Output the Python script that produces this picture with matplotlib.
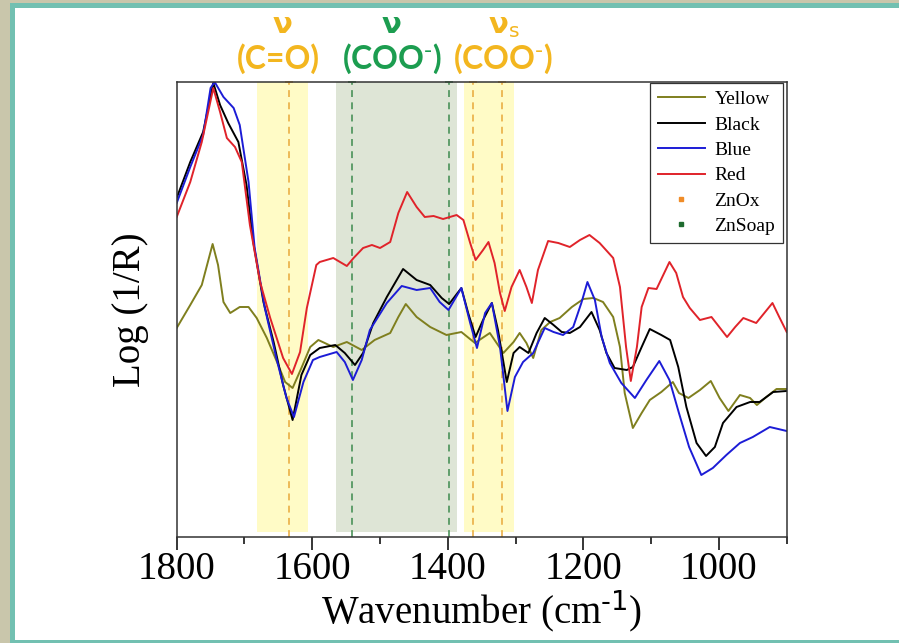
import matplotlib.pyplot as plt
from matplotlib.lines import Line2D
from matplotlib.patches import Rectangle

plt.rcParams['mathtext.default'] = 'regular'

# spectra (wavenumber, arbitrary log(1/R) units)
wn_yellow = [1800, 1780, 1763, 1747, 1739, 1731, 1721, 1707, 1694, 1682, 1667, 1652, 1640, 1629,
             1616, 1603, 1591, 1569, 1549, 1527, 1508, 1485, 1473, 1462, 1446, 1426, 1402, 1380,
             1360, 1338, 1318, 1303, 1294, 1284, 1274, 1262, 1249, 1235, 1217, 1200, 1185, 1171,
             1156, 1146, 1139, 1127, 1114, 1102, 1085, 1068, 1059, 1045, 1028, 1012, 999, 986,
             969, 954, 944, 930, 915, 900]
yellow = [2.09, 2.32, 2.52, 2.93, 2.72, 2.35, 2.24, 2.30, 2.30, 2.19, 1.99, 1.75, 1.55, 1.49,
          1.69, 1.90, 1.97, 1.90, 1.95, 1.87, 1.97, 2.04, 2.20, 2.33, 2.20, 2.10, 2.02, 2.05,
          1.94, 2.04, 1.84, 1.95, 2.04, 1.94, 1.79, 2.07, 2.15, 2.19, 2.30, 2.38, 2.39, 2.35,
          2.20, 1.90, 1.44, 1.09, 1.24, 1.37, 1.45, 1.55, 1.44, 1.39, 1.47, 1.56, 1.39, 1.26,
          1.42, 1.39, 1.32, 1.40, 1.48, 1.48]

wn_black = [1800, 1780, 1761, 1746, 1736, 1724, 1709, 1697, 1687, 1672, 1657, 1643, 1629, 1616,
            1603, 1589, 1566, 1552, 1537, 1525, 1510, 1490, 1466, 1446, 1426, 1409, 1398, 1380,
            1370, 1359, 1348, 1335, 1326, 1313, 1303, 1294, 1281, 1269, 1257, 1244, 1232, 1220,
            1205, 1188, 1176, 1166, 1154, 1136, 1127, 1114, 1102, 1085, 1072, 1060, 1048, 1033,
            1019, 1006, 994, 974, 954, 940, 920, 900]
black = [3.39, 3.75, 4.05, 4.54, 4.32, 4.14, 3.95, 3.52, 2.95, 2.35, 1.95, 1.52, 1.17, 1.62,
         1.82, 1.89, 1.92, 1.84, 1.72, 1.84, 2.14, 2.40, 2.68, 2.57, 2.52, 2.39, 2.33, 2.49,
         2.24, 2.00, 2.17, 2.34, 2.07, 1.55, 1.84, 1.90, 1.84, 2.04, 2.19, 2.12, 2.05, 2.04,
         2.10, 2.25, 2.07, 1.84, 1.69, 1.67, 1.70, 1.90, 2.08, 2.02, 1.97, 1.70, 1.30, 0.94,
         0.81, 0.90, 1.14, 1.30, 1.35, 1.35, 1.45, 1.46]

wn_blue = [1800, 1780, 1761, 1750, 1744, 1731, 1716, 1707, 1694, 1685, 1670, 1653, 1638, 1627,
           1613, 1599, 1589, 1564, 1552, 1540, 1527, 1515, 1490, 1468, 1446, 1426, 1412, 1399,
           1380, 1367, 1357, 1345, 1335, 1323, 1312, 1301, 1289, 1274, 1257, 1244, 1230, 1215,
           1203, 1194, 1183, 1173, 1161, 1144, 1124, 1107, 1088, 1073, 1059, 1044, 1026, 1009,
           989, 969, 950, 925, 900]
blue = [3.34, 3.70, 4.02, 4.49, 4.55, 4.40, 4.29, 4.12, 3.55, 2.89, 2.29, 1.79, 1.39, 1.20,
        1.55, 1.77, 1.80, 1.85, 1.75, 1.57, 1.77, 2.07, 2.34, 2.51, 2.47, 2.49, 2.35, 2.27,
        2.49, 2.14, 1.89, 2.24, 2.34, 1.90, 1.26, 1.60, 1.75, 1.84, 2.09, 2.05, 2.02, 2.10,
        2.34, 2.55, 2.37, 2.00, 1.74, 1.54, 1.39, 1.57, 1.76, 1.57, 1.24, 0.90, 0.62, 0.69,
        0.82, 0.94, 1.00, 1.10, 1.06]

wn_red = [1800, 1780, 1763, 1746, 1736, 1726, 1714, 1704, 1692, 1677, 1662, 1643, 1630, 1618,
          1608, 1594, 1589, 1569, 1549, 1539, 1525, 1512, 1500, 1485, 1473, 1460, 1446, 1434,
          1421, 1407, 1387, 1377, 1367, 1359, 1348, 1340, 1331, 1323, 1316, 1306, 1294, 1284,
          1276, 1267, 1252, 1237, 1220, 1205, 1191, 1176, 1156, 1146, 1137, 1130, 1121, 1114,
          1104, 1092, 1073, 1063, 1053, 1043, 1028, 1011, 988, 976, 964, 945, 921, 911, 900]
red = [3.20, 3.55, 3.95, 4.49, 4.25, 3.99, 3.90, 3.75, 3.12, 2.55, 2.19, 1.79, 1.63, 1.85,
       2.29, 2.72, 2.75, 2.79, 2.71, 2.79, 2.89, 2.92, 2.89, 2.95, 3.24, 3.45, 3.30, 3.20,
       3.21, 3.18, 3.22, 3.17, 2.94, 2.77, 2.87, 2.95, 2.74, 2.44, 2.26, 2.50, 2.67, 2.50,
       2.34, 2.67, 2.96, 2.94, 2.90, 2.97, 3.02, 2.94, 2.79, 2.50, 1.90, 1.56, 1.90, 2.30,
       2.49, 2.48, 2.75, 2.64, 2.40, 2.29, 2.17, 2.20, 2.00, 2.10, 2.19, 2.14, 2.34, 2.20, 2.05]

series_names = ['Yellow', 'Black', 'Blue', 'Red']
series_colors = ['#7f7f1e', '#000000', '#1c1cd6', '#e0232a']

znox_pos = [1635, 1363, 1320]
znsoap_pos = [1541, 1398]
yellow_bands = [(1681, 1607), (1376, 1303)]
green_band = (1565, 1386)

fig = plt.figure(figsize=(8.99, 6.43), dpi=100)
fig.patch.set_facecolor('white')

# slide frame
W, H = 899.0, 643.0
def frame_rect(x0, y0, x1, y1, c):
    fig.add_artist(Rectangle((x0 / W, 1 - y1 / H), (x1 - x0) / W, (y1 - y0) / H,
                             transform=fig.transFigure, facecolor=c, edgecolor='none', zorder=-10))
frame_rect(0, 0, 10, H, '#c9c6ab')
frame_rect(0, 0, W, 3, '#c9c6ab')
frame_rect(10, 3, 15, H, '#72c0b1')
frame_rect(10, 3, W, 8, '#72c0b1')
frame_rect(10, 640, W, H, '#72c0b1')

ax = fig.add_axes([176.7 / W, 1 - 537 / H, 610 / W, 455 / H])

for a, b in yellow_bands:
    ax.axvspan(a, b, ymin=0.01, ymax=1, color='#fffbc6', lw=0, zorder=0)
ax.axvspan(green_band[0], green_band[1], ymin=0.01, ymax=1, color='#dee5d6', lw=0, zorder=0)

for p in znox_pos:
    ax.axvline(p, color='#e8a83a', ls=(0, (4.5, 3.5)), lw=1.1, zorder=1)
    ax.plot([p], [4.55], marker='_', ms=6, color='#e8a83a', mew=1.1, clip_on=False, zorder=1)
for p in znsoap_pos:
    ax.axvline(p, color='#3d8a4d', ls=(0, (4.5, 3.5)), lw=1.1, zorder=1)
    ax.plot([p], [4.55], marker='_', ms=6, color='#3d8a4d', mew=1.1, clip_on=False, zorder=1)

curves = [(wn_yellow, yellow), (wn_black, black), (wn_blue, blue), (wn_red, red)]
for (x, y), name, c in zip(curves, series_names, series_colors):
    ax.plot(x, y, color=c, lw=1.4, label=name, zorder=2, solid_joinstyle='round')

ax.set_xlim(1800, 900)
ax.set_ylim(0, 4.55)
ax.set_yticks([])
ax.set_xticks([1800, 1600, 1400, 1200, 1000])
ax.set_xticks([1700, 1500, 1300, 1100, 900], minor=True)
ax.tick_params(axis='x', which='major', length=9, width=1.1, direction='out', pad=1,
               labelsize=28, labelfontfamily='Liberation Serif')
ax.tick_params(axis='x', which='minor', length=5, width=1.1, direction='out')
for s in ax.spines.values():
    s.set_linewidth(1.1)
    s.set_color('#333333')

ax.set_xlabel('Wavenumber (cm$^{\\text{-1}}$)', family='Liberation Serif', fontsize=28)
ax.xaxis.set_label_coords(0.5, -0.112)
ax.set_ylabel('Log (1/R)', family='Liberation Serif', fontsize=28)
ax.yaxis.set_label_coords(-0.046, 0.5)

handles = [Line2D([], [], color=c, lw=1.4) for c in series_colors]
handles += [Line2D([], [], ls='none', marker='s', ms=3, color='#f08c28'),
            Line2D([], [], ls='none', marker='s', ms=3, color='#1e6b2e')]
leg = ax.legend(handles, series_names + ['ZnOx', 'ZnSoap'], loc='upper right',
                bbox_to_anchor=(0.994, 0.998), borderaxespad=0, fancybox=False,
                edgecolor='#333333', framealpha=1, handlelength=2.4, handletextpad=0.5,
                labelspacing=0.4, prop={'family': 'Liberation Serif', 'size': 14})
leg.get_frame().set_linewidth(0.9)

gold = '#f3b61f'
green = '#1c9d50'
tfont = dict(family='Lato', fontweight='bold', fontsize=23, ha='center', va='center')
nu_font = dict(family='DejaVu Sans', fontweight='bold', fontsize=21, ha='center', va='baseline')
fig.text(282 / W, 1 - 33 / H, 'ν', color=gold, **nu_font)
fig.text(278 / W, 1 - 59 / H, '(C=O)', color=gold, **tfont)
fig.text(391 / W, 1 - 33 / H, 'ν', color=green, **nu_font)
fig.text(392 / W, 1 - 59 / H, '(COO$^{\\text{-}}$)', color=green, **tfont)
fig.text(504 / W, 1 - 33 / H, 'ν$_{\\text{s}}$', color=gold, **nu_font)
fig.text(503 / W, 1 - 59 / H, '(COO$^{\\text{-}}$)', color=gold, **tfont)

fig.savefig('out.png', dpi=100, facecolor=fig.get_facecolor())
